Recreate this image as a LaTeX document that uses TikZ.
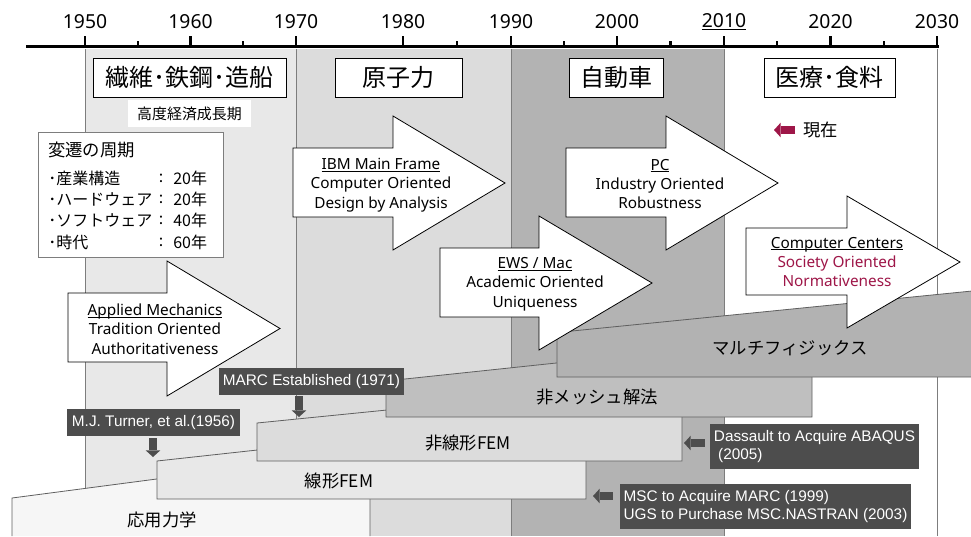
\documentclass[tikz,border=0pt]{standalone}
\usepackage{fontspec}
\setmainfont{Noto Sans}
\newfontfamily\jpfont{Noto Sans CJK JP}
\newfontfamily\lbfont{Liberation Sans}
\usetikzlibrary{arrows.meta}
\definecolor{bandA}{RGB}{232,232,232}
\definecolor{bandB}{RGB}{220,220,220}
\definecolor{bandC}{RGB}{179,179,179}
\definecolor{barA}{RGB}{246,246,246}
\definecolor{barB}{RGB}{232,232,232}
\definecolor{barC}{RGB}{220,220,220}
\definecolor{barD}{RGB}{191,191,191}
\definecolor{barE}{RGB}{178,178,178}
\definecolor{edgegray}{RGB}{95,95,95}
\definecolor{linegray}{RGB}{125,125,125}
\definecolor{labeldark}{RGB}{77,77,77}
\definecolor{accent}{RGB}{158,22,72}
% underline at a fixed depth, crossing descenders
\newcommand\ulabel[1]{\setbox0\hbox{#1}\rlap{\rule[-1.7pt]{\wd0}{0.6pt}}\box0}
% block arrow: name, body left x, body top y, body bottom y, head base x, head top y, head bottom y, tip x
\newcommand\bigarr[8]{%
  \draw[bigarrow] (#2,#3) -- (#5,#3) -- (#5,#6) -- (#8,{(#6+#7)/2}) -- (#5,#7) -- (#5,#4) -- (#2,#4) -- cycle;}
\begin{document}
\begin{tikzpicture}[x=0.75pt,y=-0.75pt,
  bandline/.style={draw=linegray, line width=0.75pt},
  axisline/.style={line width=1.6pt, draw=black},
  yearlabel/.style={font=\fontsize{14.5}{16}\selectfont, inner sep=0pt},
  titlebox/.style={draw=black, fill=white, line width=0.75pt, font=\jpfont\fontsize{18}{20}\selectfont, inner sep=0pt, minimum height=29.25pt},
  bigarrow/.style={draw=black, fill=white, line width=0.6pt, line join=miter},
  arrtext/.style={align=center, font=\fontsize{11.5}{14.6}\selectfont, inner sep=0pt},
  bar/.style={draw=edgegray, line width=0.6pt},
  bartext/.style={font=\jpfont\fontsize{13}{15}\selectfont, inner sep=0pt},
  darklabel/.style={fill=labeldark, text=white, font=\lbfont\fontsize{11.5}{13.5}\selectfont, align=left, inner sep=2pt},
  pointer/.style={draw=labeldark, line width=6pt, -{Triangle[length=5pt,width=11pt,line width=0pt]}},
  rowtext/.style={font=\jpfont\fontsize{12}{14}\selectfont, inner sep=0pt},
]
\useasboundingbox (0,0) rectangle (971,536);

% era bands
\fill[bandA] (85,49) rectangle (296,536);
\fill[bandB] (296,49) rectangle (511,536);
\fill[bandC] (511,49) rectangle (724,536);
\foreach \xx in {85,296,511,724,937}
  \draw[bandline] (\xx,49) -- (\xx,536);

% time axis
\draw[axisline] (26,46.5) -- (939,46.5);
\foreach \xx/\yr in {85/1950,190.5/1960,296/1970,403/1980,511/1990,617/2000,830.5/2020,937/2030}{
  \draw[axisline] (\xx,46.5) -- (\xx,36);
  \node[yearlabel] (y\yr) at (\xx,22) {\yr};
}
\draw[axisline] (724,46.5) -- (724,36);
\node[yearlabel] (y2010) at (724,22) {\ulabel{2010}};
\foreach \xx in {138,243,457,564,670.5,777,884}
  \draw[axisline] (\xx,46.5) -- (\xx,40.5);

% technology layers
\draw[bar, fill=barA] (12,536) -- (12,498) -- (370,451) -- (370,536);
\draw[bar, fill=barB] (157,499) -- (157,461) -- (586,414) -- (586,499) -- cycle;
\draw[bar, fill=barC] (257,461) -- (257,423) -- (682,380.5) -- (682,461) -- cycle;
\draw[bar, fill=barD] (386,417) -- (386,381) -- (812,336) -- (812,417) -- cycle;
\draw[bar, fill=barE] (557,377) -- (557,332.5) -- (972,291) -- (972,377) -- cycle;
\node[bartext] (am) at (162,520) {応用力学};
\node[bartext] (lf) at (339,481) {線形FEM};
\node[bartext] (nl) at (468,443) {非線形FEM};
\node[bartext] (nm) at (597,397) {非メッシュ解法};
\node[bartext] (mp) at (790,348) {マルチフィジックス};

% paradigm arrows
\bigarr{am}{68}{293}{362}{167}{261}{396}{280}
\bigarr{ibm}{293}{148}{217}{393}{116}{250}{505}
\bigarr{ews}{440}{248}{317}{539}{216}{350}{652}
\bigarr{pc}{566}{148}{217}{666}{116}{250}{778}
\bigarr{cc}{746}{228}{295}{847}{196}{328}{960}
\node[arrtext] (amtext) at (155,329) {\ulabel{Applied Mechanics}\\Tradition Oriented\\Authoritativeness};
\node[arrtext] (ibmtext) at (381,185) {\ulabel{IBM Main Frame}\\Computer Oriented\\Design by Analysis};
\node[arrtext] (ewstext) at (535,284) {\ulabel{EWS / Mac}\\Academic Oriented\\Uniqueness};
\node[arrtext] (pctext) at (660,184) {\ulabel{PC}\\Industry Oriented\\Robustness};
\node[arrtext] (cctext) at (837,262) {\ulabel{Computer Centers}\\\textcolor{accent}{Society Oriented}\\\textcolor{accent}{Normativeness}};

% industry titles
\node[titlebox, minimum width=144.75pt] (t1) at (189.5,77.5) {繊維･鉄鋼･造船};
\node[titlebox, minimum width=95.25pt] (t2) at (398.5,77.5) {原子力};
\node[titlebox, minimum width=70.5pt] (t3) at (616,77.5) {自動車};
\node[titlebox, minimum width=98.25pt] (t4) at (829.5,77.5) {医療･食料};
\node[fill=white, minimum width=92.25pt, minimum height=20.25pt, inner sep=0pt,
      font=\jpfont\fontsize{11.2}{13}\selectfont] (boom) at (189.5,113.5) {高度経済成長期};

% cycle legend
\node[draw=linegray, fill=white, line width=0.75pt, minimum width=138.75pt, minimum height=93.75pt, inner sep=0pt] (period) at (130.5,194.5) {};
\node[anchor=west, inner sep=0pt, font=\jpfont\fontsize{13}{15}\selectfont] (phead) at (48,150) {変遷の周期};
\foreach \yy/\nm/\val/\id in {178/･産業構造/20年/a, 199/･ハードウェア/20年/b, 220/･ソフトウェア/40年/c, 242/･時代/60年/d}{
  \node[rowtext, anchor=west] (pn\id) at (48,\yy) {\nm};
  \node[rowtext] (pc\id) at (161,\yy) {:};
  \node[rowtext, anchor=west] (pv\id) at (173,\yy) {\val};
}

% present marker
\node[anchor=west, inner sep=0pt, font=\jpfont\fontsize{13}{15}\selectfont] (now) at (803,130) {現在};
\coordinate (nowtip) at (774,130);
\draw[pointer, draw=accent, shorten <=6pt] (now.west) -- (nowtip);

% event labels
\node[darklabel, minimum width=138.75pt, minimum height=20.25pt] (marc) at (311.5,381.5) {MARC Established (1971)};
\node[darklabel, minimum width=129.75pt, minimum height=20.25pt] (turner) at (153.5,422.5) {M.J. Turner, et al.(1956)};
\node[darklabel, minimum width=156.75pt, minimum height=33.75pt] (dassault) at (814.5,446.5) {Dassault to Acquire ABAQUS\\\ (2005)};
\node[darklabel, minimum width=218.25pt, minimum height=33.75pt] (msc) at (765.5,506.5) {MSC to Acquire MARC (1999)\\UGS to Purchase MSC.NASTRAN (2003)};
\coordinate (marctip) at (299,417);
\coordinate (turnertip) at (153,457);
\coordinate (dstip) at (684,443);
\coordinate (msctip) at (593,496);
\draw[pointer, shorten <=0.75pt] (marctip |- marc.south) -- (marctip);
\draw[pointer, shorten <=1.5pt] (turnertip |- turner.south) -- (turnertip);
\draw[pointer, shorten <=3.75pt] (dassault.west |- dstip) -- (dstip);
\draw[pointer, shorten <=5.25pt] (msc.west |- msctip) -- (msctip);
\end{tikzpicture}
\end{document}
